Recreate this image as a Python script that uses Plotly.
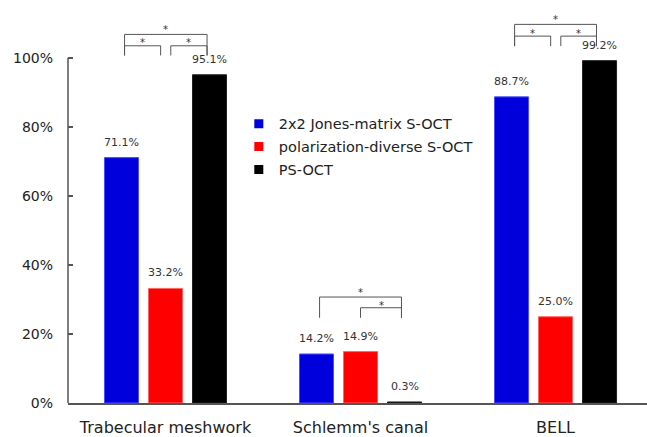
import plotly.graph_objects as go

# Detection rates per structure and method
categories = ["Trabecular meshwork", "Schlemm's canal", "BELL"]
series_names = ["2x2 Jones-matrix S-OCT", "polarization-diverse S-OCT", "PS-OCT"]
jones_vals = [71.1, 14.2, 88.7]
pdiverse_vals = [33.2, 14.9, 25.0]
psoct_vals = [95.1, 0.3, 99.2]
tick_vals = [0, 20, 40, 60, 80, 100]
tick_text = ["0%", "20%", "40%", "60%", "80%", "100%"]

colors = ["#0000dd", "#ff0000", "#000000"]
edge_colors = ["#4d4dff", "#ff6666", "#222222"]
FONT = "DejaVu Sans"
LINE = "#555555"

# significance brackets: (group, left offset, right offset, bar y, leg bottom y)
brackets = [
    (0, -0.21, 0.213, 106.8, 100.7),
    (0, -0.21, -0.025, 103.5, 100.7),
    (0, 0.027, 0.213, 103.5, 100.7),
    (1, -0.21, 0.21, 30.7, 24.7),
    (1, 0.0, 0.21, 27.6, 24.7),
    (2, -0.21, 0.21, 109.7, 103.4),
    (2, -0.21, -0.025, 106.3, 103.4),
    (2, 0.027, 0.21, 106.3, 103.4),
]
star_positions = [
    (0, 0.0, 109.2), (0, -0.12, 105.2), (0, 0.12, 105.2),
    (1, 0.0, 32.8), (1, 0.105, 29.0),
    (2, 0.0, 111.9), (2, -0.12, 107.8), (2, 0.12, 107.8),
]

x = list(range(len(categories)))
fig = go.Figure()
for name, vals, col, ecol in zip(series_names, [jones_vals, pdiverse_vals, psoct_vals], colors, edge_colors):
    fig.add_trace(go.Bar(
        x=x, y=vals, name=name, showlegend=False,
        marker=dict(color=col, line=dict(color=ecol, width=1)),
    ))
# legend entries with small square swatches
for k, (name, col) in enumerate(zip(series_names, colors)):
    fig.add_trace(go.Scatter(
        x=[None], y=[None], mode="markers", name=name, legendgroup=f"g{k}",
        marker=dict(symbol="square", size=9, color=col),
    ))

# value labels above each bar
offsets = [-0.226, 0.0, 0.226]
annotations = []
for vals, off in zip([jones_vals, pdiverse_vals, psoct_vals], offsets):
    for i, v in enumerate(vals):
        annotations.append(dict(
            x=i + off, y=v, xref="x", yref="y", text=f"{v:.1f}%",
            showarrow=False, yanchor="bottom", yshift=7,
            font=dict(family=FONT, size=11, color="#333333"),
        ))

shapes = []
for g, lo, hi, yb, yl in brackets:
    shapes.append(dict(
        type="path", xref="x", yref="y",
        path=f"M{g+lo},{yl} L{g+lo},{yb} L{g+hi},{yb} L{g+hi},{yl}",
        line=dict(color=LINE, width=1),
    ))
for g, off, ys in star_positions:
    annotations.append(dict(
        x=g + off, y=ys, xref="x", yref="y", text="*", showarrow=False,
        yanchor="middle", yshift=-3,
        font=dict(family=FONT, size=10, color="#333333"),
    ))

# y axis line drawn only up to 100%
shapes.append(dict(type="line", xref="paper", yref="y", x0=0, x1=0, y0=0, y1=100,
                   line=dict(color=LINE, width=1.5)))

fig.update_layout(
    width=647, height=437,
    margin=dict(l=68, r=0, t=13, b=31),
    paper_bgcolor="white", plot_bgcolor="white",
    barmode="group", bargap=0.323, bargroupgap=0.227,
    font=dict(family=FONT, color="#222222"),
    showlegend=True,
    legend=dict(
        x=0.295, y=0.757, xanchor="left", yanchor="top",
        font=dict(family=FONT, size=14.5, color="#222222"),
        bgcolor="rgba(0,0,0,0)", itemwidth=30, tracegroupgap=1,
    ),
    annotations=annotations,
    shapes=shapes,
    xaxis=dict(
        range=[-0.5, 2.469], tickvals=x, ticktext=categories,
        showline=True, linecolor=LINE, linewidth=1.5, ticks="",
        showgrid=False, zeroline=False, ticklabelstandoff=9,
        tickfont=dict(family=FONT, size=16, color="#222222"),
    ),
    yaxis=dict(
        range=[0, 113], tickvals=tick_vals, ticktext=tick_text,
        showline=False, ticks="inside", ticklen=5, tickcolor=LINE, tickwidth=1.5,
        showgrid=False, zeroline=False, ticklabelstandoff=14,
        tickfont=dict(family=FONT, size=14, color="#222222"),
    ),
)

fig.write_html("out.html")
